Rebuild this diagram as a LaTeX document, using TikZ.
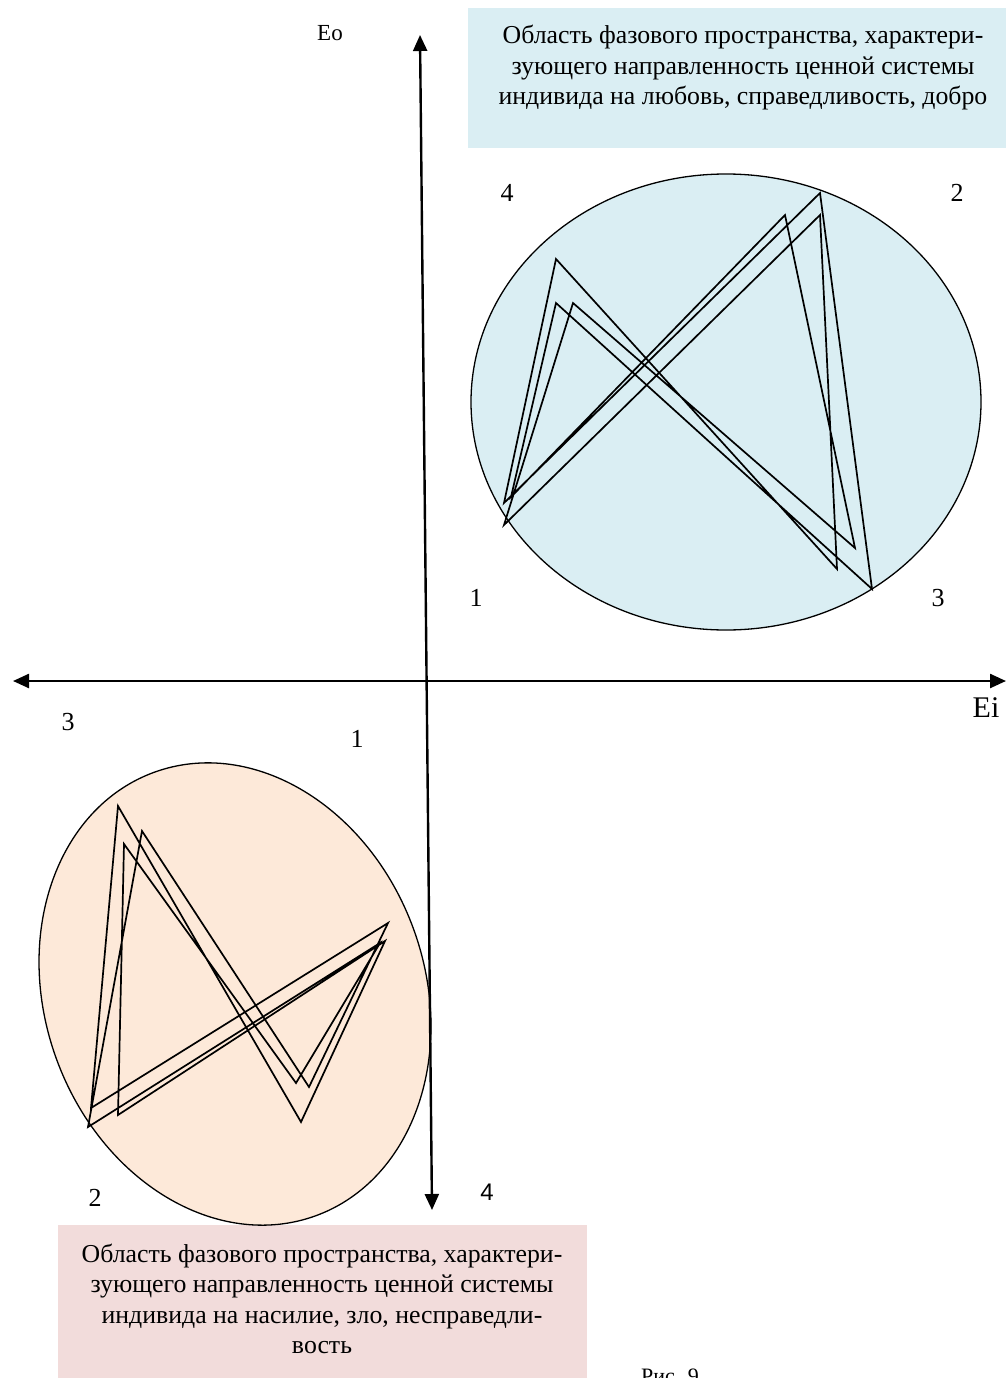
\documentclass[tikz,border=0pt]{standalone}
\usepackage{fontspec}
\setmainfont{Liberation Serif}
\newfontfamily\arialfont{Liberation Sans}
\usetikzlibrary{arrows.meta}
\definecolor{blueF}{HTML}{DAEEF3}
\definecolor{orangeF}{HTML}{FDE9D9}
\definecolor{pinkF}{HTML}{F2DCDB}
\tikzset{
  axisline/.style={line width=2.4pt, {Triangle[length=16pt,width=14pt]}-{Triangle[length=16pt,width=14pt]}},
  region/.style={draw=black, line width=1.3pt},
  traj/.style={draw=black, line width=1.7pt, line join=miter},
  boxtext/.style={align=center, font=\fontsize{25.8}{30.5}\selectfont, inner sep=0pt},
  numlabel/.style={font=\fontsize{26}{30}\selectfont, inner sep=0pt},
}
\begin{document}
\begin{tikzpicture}[x=1pt,y=-1pt]
\useasboundingbox (0,0) rectangle (1006,1378);
\fill[white] (0,0) rectangle (1006,1378);

% text boxes
\fill[blueF] (468,8) rectangle (1010,148);
\node[boxtext] (toptext) at (743,68) {Область фазового пространства, характери-\\зующего направленность ценной системы\\индивида на любовь, справедливость, добро};
\fill[pinkF] (58,1225) rectangle (587,1382);
\node[boxtext] (bottext) at (322,1299) {Область фазового пространства, характери-\\зующего направленность ценной системы\\индивида на насилие, зло, несправедли-\\вость};

% regions
\draw[region, fill=blueF] (726,402) ellipse (255 and 228);
\draw[region, fill=orangeF, rotate around={20:(235,994)}] (235,994) ellipse (190 and 236);

% top trajectory
\coordinate (t1a) at (504,503);
\coordinate (t1b) at (504,525);
\coordinate (t1c) at (511,497);
\coordinate (t4a) at (556,259);
\coordinate (t4b) at (556,303);
\coordinate (t4c) at (573,303);
\coordinate (t2a) at (785,215);
\coordinate (t2b) at (820,193);
\coordinate (t2c) at (820,215);
\coordinate (t3a) at (855,548);
\coordinate (t3b) at (837,569);
\coordinate (t3c) at (872,589);
\draw[traj] (t1a) -- (t4a) -- (t3b) -- (t2c) -- (t1b) -- (t4c) -- (t3a) -- (t2a) -- (t1c) -- (t4b) -- (t3c) -- (t2b) -- cycle;

% bottom trajectory
\coordinate (bB1) at (88,1127);
\coordinate (bB2) at (91,1108);
\coordinate (bB3) at (118,1115);
\coordinate (bA1) at (118,806);
\coordinate (bA2) at (142,831);
\coordinate (bA3) at (124,844);
\coordinate (bV1) at (296,1083);
\coordinate (bV2) at (309,1087);
\coordinate (bV3) at (301,1122);
\coordinate (bR1) at (388,923);
\coordinate (bR2) at (385,941);
\coordinate (bR3) at (380,943);
\draw[traj] (bB1) -- (bA2) -- (bV2) -- (bR1) -- (bB2) -- (bA1) -- (bV3) -- (bR2) -- (bB3) -- (bA3) -- (bV1) -- (bR3) -- cycle;

% axes
\coordinate (ytop) at (420,35);
\coordinate (ybot) at (432,1210);
\coordinate (xleft) at (13,681);
\coordinate (xright) at (1006,681);
\draw[axisline] (xleft) -- (xright);
\draw[axisline] (ybot) -- (ytop);

% axis labels
\node[font=\fontsize{23}{26}\selectfont, inner sep=0pt] (eo) at (330,33) {Eo};
\node[font=\fontsize{30}{34}\selectfont, inner sep=0pt] (ei) at (986,708) {Ei};

% number labels
\node[numlabel] (n4t) at (507,193) {4};
\node[numlabel] (n2t) at (957,193) {2};
\node[numlabel] (n1t) at (476,598) {1};
\node[numlabel] (n3t) at (938,598) {3};
\node[numlabel] (n3b) at (68,722) {3};
\node[numlabel] (n1b) at (357,739) {1};
\node[numlabel] (n2b) at (95,1198) {2};
\node[font=\arialfont\fontsize{24}{28}\selectfont, inner sep=0pt] (n4b) at (487,1192) {4};

% caption (cut at the bottom edge, as in the reference)
\node[font=\fontsize{22}{26}\selectfont, inner sep=0pt, anchor=base] (cap) at (670,1383) {Рис. 9};
\end{tikzpicture}
\end{document}
